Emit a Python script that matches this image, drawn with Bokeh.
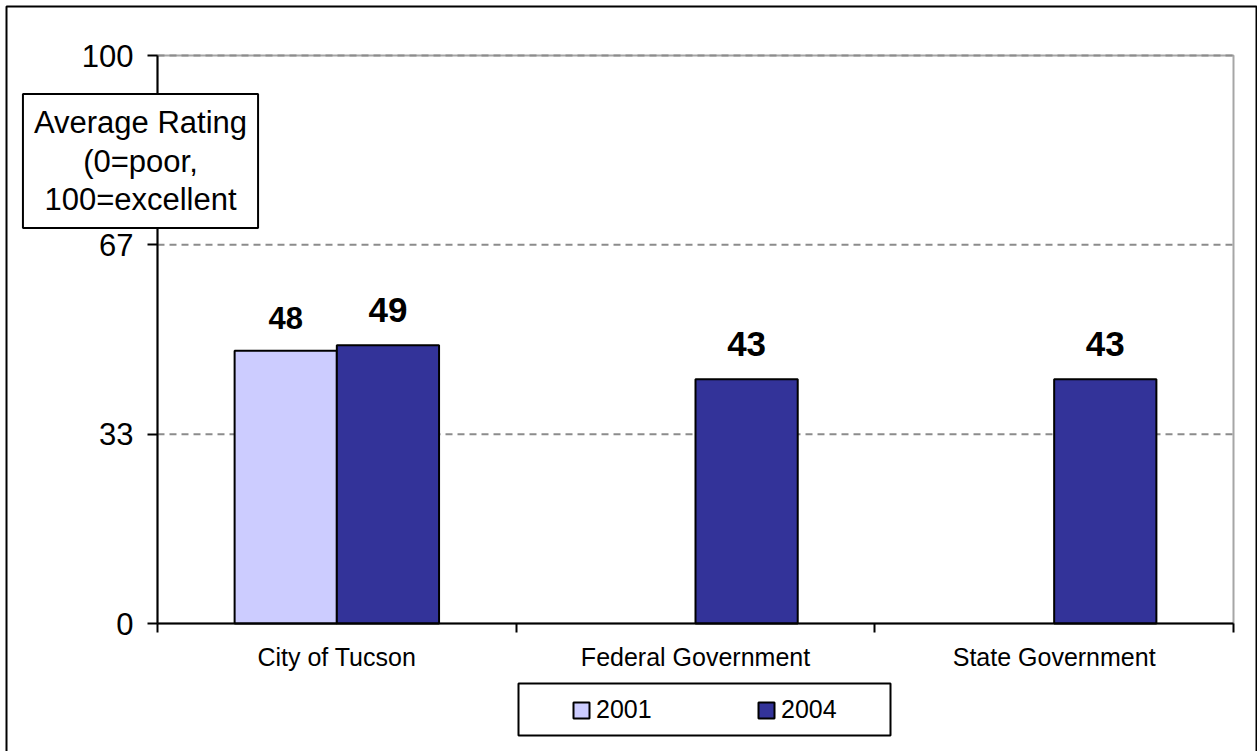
from bokeh.plotting import figure
from bokeh.models import (ColumnDataSource, Range1d, FixedTicker, NumeralTickFormatter,
                          Label, Legend, LegendItem, BoxAnnotation)
from bokeh.core.properties import value
from bokeh.transform import dodge
from bokeh.embed import file_html
from bokeh.resources import INLINE

# --- data -------------------------------------------------------------
categories = ["City of Tucson", "Federal Government", "State Government"]
years = ["2001", "2004"]
rating_2001 = [48, None, None]
rating_2004 = [49, 43, 43]
y_ticks = [0, 100 / 3, 200 / 3, 100]

FONT = "Liberation Sans"
C2001 = "#CCCCFF"
C2004 = "#333399"

W, H = 1257, 751
# pixel box of the plotting area inside the canvas
PL, PR, PT, PB = 157, 1233, 55, 623
NCAT = len(categories)
YMAX = 100

# the frame spans the whole canvas; axes are pinned at x=0 / y=0
xpx = (PR - PL) / NCAT
ypx = (PB - PT) / YMAX
x_range = Range1d(-PL / xpx, NCAT + (W - PR) / xpx)
y_range = Range1d(-(H - PB) / ypx, YMAX + PT / ypx)

pos = [i + 0.5 for i in range(NCAT)]

src01 = ColumnDataSource(dict(
    x=[p for p, v in zip(pos, rating_2001) if v is not None],
    y=[v for v in rating_2001 if v is not None],
    lbl=[str(v) for v in rating_2001 if v is not None],
))
src04 = ColumnDataSource(dict(
    x=pos,
    y=rating_2004,
    lbl=[str(v) for v in rating_2004],
))

p = figure(width=W, height=H, output_backend="svg", toolbar_location=None,
           x_range=x_range, y_range=y_range,
           min_border_left=0, min_border_right=0, min_border_top=0, min_border_bottom=0)
p.background_fill_color = "white"
p.border_fill_color = "white"
p.outline_line_color = None
p.xgrid.visible = False
p.ygrid.visible = False

# plotting-area border (grey, top and right visible)
p.add_layout(BoxAnnotation(left=0, right=NCAT, bottom=0, top=YMAX, level="underlay",
                           fill_alpha=0, line_color="#a6a6a6", line_width=2, line_alpha=1))

# dashed horizontal gridlines
grid_y = y_ticks[1:]
p.segment(x0=[0] * len(grid_y), x1=[NCAT] * len(grid_y), y0=grid_y, y1=grid_y,
          line_color="#8c8c8c", line_width=2, line_dash="7 5")

BAR_W = 0.285
off = BAR_W / 2
r01 = p.vbar(x=dodge("x", -off, range=p.x_range), top="y", width=BAR_W, source=src01,
             fill_color=C2001, line_color="black", line_width=2)
r04 = p.vbar(x=dodge("x", off, range=p.x_range), top="y", width=BAR_W, source=src04,
             fill_color=C2004, line_color="black", line_width=2)

# bold value labels above the bars
for s, o, fs, yo in ((src01, -off, "31px", -33), (src04, off, "35px", -35)):
    p.text(x=dodge("x", o, range=p.x_range), y="y", text="lbl", source=s, y_offset=yo,
           text_align="center", text_baseline="alphabetic", text_font=value(FONT),
           text_font_style="bold", text_font_size=value(fs), text_color="black")

# --- axes ---------------------------------------------------------------
yax = p.yaxis[0]
yax.fixed_location = 0
yax.bounds = (0, YMAX)
yax.ticker = FixedTicker(ticks=y_ticks)
yax.formatter = NumeralTickFormatter(format="0")
yax.axis_line_width = 2
yax.axis_line_color = "black"
yax.major_tick_in = 0
yax.major_tick_out = 10
yax.major_tick_line_width = 2
yax.minor_tick_line_color = None
yax.major_label_standoff = 14
yax.major_label_text_font = FONT
yax.major_label_text_font_size = "31px"
yax.major_label_text_color = "black"

xax = p.xaxis[0]
xax.fixed_location = 0
xax.bounds = (0, NCAT)
xax.ticker = FixedTicker(ticks=pos, minor_ticks=list(range(NCAT + 1)))
xax.major_label_overrides = {pp: c for pp, c in zip(pos, categories)}
xax.axis_line_width = 2
xax.axis_line_color = "black"
xax.major_tick_line_color = None
xax.major_tick_in = 0
xax.major_tick_out = 0
xax.minor_tick_in = 0
xax.minor_tick_out = 9
xax.minor_tick_line_color = "black"
xax.minor_tick_line_width = 2
xax.major_label_standoff = 10
xax.major_label_text_font = FONT
xax.major_label_text_font_size = "25px"
xax.major_label_text_color = "black"

# --- axis title box --------------------------------------------------------
p.add_layout(Label(x=140, y=H - 160.5, x_units="screen", y_units="screen",
                   text="Average Rating\n(0=poor,\n100=excellent",
                   text_align="center", text_baseline="middle",
                   text_font=FONT, text_font_size="31px", text_line_height=1.1,
                   text_color="black", padding=11,
                   background_fill_color="white", border_line_color="black",
                   border_line_width=2))

# --- legend -------------------------------------------------------------
p.add_layout(BoxAnnotation(left=518, right=890, bottom=H - 735, top=H - 683,
                           left_units="screen", right_units="screen",
                           bottom_units="screen", top_units="screen",
                           fill_color="white", fill_alpha=1,
                           line_color="black", line_width=2, line_alpha=1))
legend = Legend(items=[LegendItem(label=years[0], renderers=[r01]),
                       LegendItem(label=years[1], renderers=[r04])],
                location=(571, H - 724), orientation="horizontal",
                padding=0, spacing=0, margin=0, label_standoff=5, label_width=160,
                glyph_width=20, glyph_height=20,
                label_text_font=FONT, label_text_font_size="25px",
                label_text_color="black",
                border_line_color=None, background_fill_alpha=0)
p.add_layout(legend, "center")

# outer frame around the whole chart (open at the bottom edge)
p.add_layout(BoxAnnotation(left=6, right=1256, bottom=-10, top=H - 6,
                           left_units="screen", right_units="screen",
                           bottom_units="screen", top_units="screen",
                           fill_alpha=0, line_color="black", line_width=2, line_alpha=1))

open("out.html", "w").write(file_html(p, INLINE))
